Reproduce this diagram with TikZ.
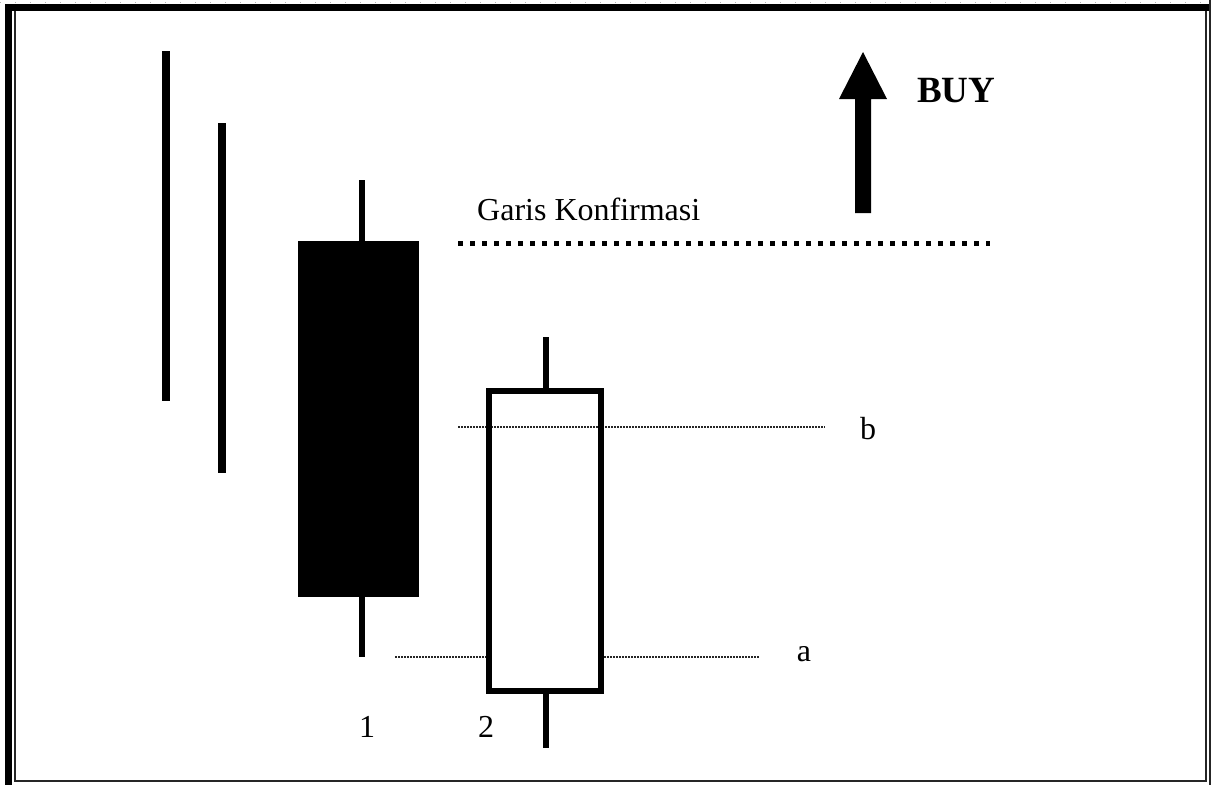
\documentclass[tikz,border=0pt]{standalone}
\usepackage{fontspec}
\setmainfont{Liberation Serif}
\begin{document}
\begin{tikzpicture}[x=1pt,y=-1pt,
  lbl/.style={inner sep=0pt,font=\fontsize{32}{38}\selectfont},
  bar/.style={line width=8pt},
  wick/.style={line width=6.3pt},
  thindot/.style={line width=1.2pt,draw=black!85,dash pattern=on 1.5pt off 1.5pt},
  framethin/.style={line width=1.6pt,draw=black!85}]
\useasboundingbox (0,0) rectangle (1212,785);
\fill[white] (0,0) rectangle (1212,785);
% frame
\draw[black!30,line width=0.8pt,dash pattern=on 1pt off 14pt] (0,2) -- (1212,2);
\fill[black] (5,4) rectangle (1211,11);
\fill[black] (5,4) rectangle (12,785);
\draw[framethin] (15,11) -- (15,781) -- (1206,781) -- (1206,11);
\draw[framethin] (1210,0) -- (1210,785);
% falling bars
\draw[bar] (166,51) -- (166,401);
\draw[bar] (222,123) -- (222,473);
% candle 1 (black)
\coordinate (c1t) at (362,180);
\coordinate (c1b) at (362,657);
\draw[wick] (c1t) -- (c1b);
\fill[black] (298,241) rectangle (419,597);
% candle 2 (white)
\coordinate (c2t) at (546,337);
\coordinate (c2b) at (546,748);
\draw[wick] (c2t) -- (c2b);
\draw[fill=white,line width=6pt] (489,391) rectangle (601,691);
% dotted levels
\coordinate (ba) at (458,427);
\coordinate (bb) at (825,427);
\coordinate (aa) at (395,657);
\coordinate (am) at (486,657);
\coordinate (an) at (604,657);
\coordinate (ab) at (760,657);
\draw[thindot] (ba) -- (bb);
\draw[thindot] (aa) -- (am);
\draw[thindot] (an) -- (ab);
\draw[line width=6pt] (489,391) rectangle (601,691);
% confirmation line
\coordinate (k1) at (458,243);
\coordinate (k2) at (990,243);
\draw[line width=5pt,dash pattern=on 5pt off 7pt] (k1) -- (k2);
% arrow
\fill[black] (855,213) -- (855,99) -- (839,99) -- (863,52) -- (887,99) -- (871,99) -- (871,213) -- cycle;
% labels
\node[lbl,anchor=base west] (gk) at (477,220) {Garis Konfirmasi};
\node[inner sep=0pt,anchor=base west,font=\fontsize{37}{44}\selectfont\bfseries] (buy) at (917,102) {BUY};
\node[lbl,anchor=base] (n1) at (367,737) {1};
\node[lbl,anchor=base] (n2) at (486,737) {2};
\node[lbl,anchor=base] (lb) at (868,439) {b};
\node[lbl,anchor=base] (la) at (804,661) {a};
\end{tikzpicture}
\end{document}
